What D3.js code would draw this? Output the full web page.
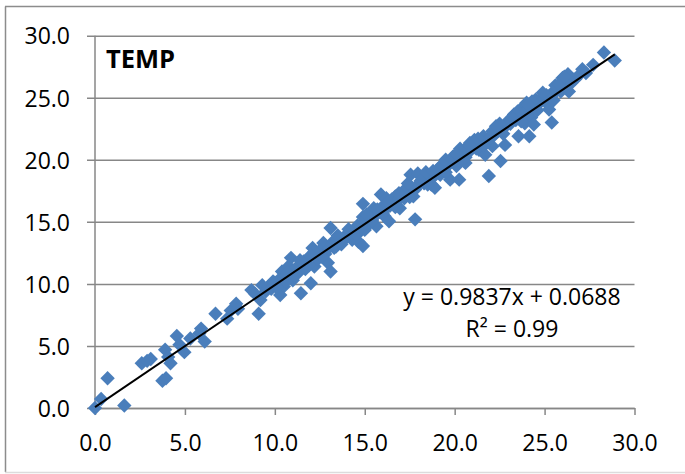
<!DOCTYPE html>
<html>
<head>
<meta charset="utf-8">
<script src="https://cdn.jsdelivr.net/npm/d3@7"></script>
<style>
  html, body { margin: 0; padding: 0; background: #fff; }
  svg { display: block; }
  text { font-family: "Open Sans", "Noto Sans", sans-serif; fill: #000; }
</style>
</head>
<body>
<svg id="chart" width="685" height="474"></svg>
<script>
// Observed vs. predicted temperature pairs (x, y)
const xValues = [
  0.0, 0.34, 0.7, 1.63, 2.6, 2.9, 3.1, 3.75, 3.95, 3.9, 4.2, 4.07, 4.55, 4.7, 4.97, 5.3, 5.8, 5.9, 6.1,
  6.7, 7.35, 7.55, 7.85, 7.95, 8.7, 9.1, 9.2, 9.3, 9.65, 9.9, 10.3, 10.4, 10.5, 10.65, 10.75, 10.9,
  11.0, 11.25, 11.45, 11.5, 11.75, 12.0, 12.1, 12.2, 12.6, 12.7, 12.95, 13.1, 13.1, 13.3, 13.55, 13.9,
  14.3, 14.55, 14.65, 14.9, 14.9, 15.0, 15.15, 15.4, 15.5, 15.65, 15.9, 16.0, 16.1, 16.35, 16.5, 16.7,
  16.95, 17.3, 17.55, 17.7, 17.8, 17.95, 18.2, 18.7, 18.8, 18.9, 19.15, 19.5, 19.75, 19.9, 20.1, 20.25,
  20.5, 20.6, 20.85, 21.1, 21.35, 21.6, 21.7, 21.9, 22.1, 22.3, 22.55, 22.7, 22.8, 23.05, 23.3, 23.55,
  23.65, 23.9, 24.0, 24.15, 24.25, 24.4, 24.5, 24.9, 25.1, 25.25, 25.4, 25.5, 25.85, 26.1, 26.35, 26.6,
  27.1, 27.7, 28.3, 28.9,
  8.9, 9.5, 9.8, 10.0, 10.2, 10.5, 10.6, 10.8, 11.0, 11.2, 11.3, 11.6, 11.8, 11.9, 12.3, 12.4, 12.5,
  12.8, 13.0, 13.2, 13.4, 13.6, 13.8, 14.0, 14.2, 14.4, 14.6, 14.8, 15.0, 15.2, 15.3, 15.6, 15.8, 16.0,
  16.2, 16.4, 16.6, 16.8, 17.0, 17.2, 17.4, 17.6, 17.8, 18.0, 18.3, 18.5, 18.6, 19.0, 19.2, 19.4, 19.6,
  19.8, 20.0, 20.2, 20.4, 20.7, 20.9, 21.0, 21.2, 21.5, 21.8, 22.0, 22.2, 22.4, 22.6, 22.9, 23.1, 23.4,
  23.6, 23.8, 24.0, 24.2, 24.4, 24.6, 24.8, 25.0, 25.2, 25.4, 25.7, 25.9, 26.0, 26.2, 26.4, 26.7, 26.9,
  27.3, 20.3, 21.3, 22.5, 23.5, 24.3, 25.6, 26.0, 26.3, 19.3, 18.4, 17.4, 16.2,
  10.1, 10.7, 11.1, 11.4, 11.7, 12.2, 12.6, 13.3, 13.7, 14.1, 14.5, 14.9, 15.4, 15.7, 16.3, 16.7,
  17.1, 17.5, 18.1, 18.5, 19.1, 19.5, 20.1, 20.6, 21.1, 21.6, 22.1, 22.7, 23.2, 23.7, 24.1, 24.6,
  25.1, 25.5, 25.8, 26.5, 12.0, 13.5, 15.1, 16.9, 18.8, 20.8, 22.3, 24.9, 26.1
];
const yValues = [
  0.0, 0.73, 2.4, 0.2, 3.6, 3.8, 3.95, 2.2, 2.4, 4.7, 3.6, 4.1, 5.8, 5.1, 4.5, 5.6, 6.0, 6.4, 5.35,
  7.6, 7.2, 7.85, 8.4, 8.0, 9.5, 7.6, 8.7, 9.9, 9.8, 10.2, 9.1, 11.0, 9.8, 10.6, 11.4, 12.1,
  10.3, 10.85, 9.25, 11.65, 11.4, 10.05, 12.9, 11.4, 12.5, 13.3, 11.7, 11.0, 14.5, 12.9, 13.3, 13.7,
  13.55, 13.95, 13.4, 13.05, 16.45, 14.35, 14.9, 15.7, 16.1, 14.65, 17.2, 16.25, 15.45, 15.05, 16.8, 17.05,
  16.1, 17.6, 18.8, 17.05, 15.2, 18.9, 18.4, 18.0, 18.6, 17.75, 18.9, 20.0, 18.4, 20.25, 19.5, 18.4,
  20.55, 19.75, 21.35, 21.6, 20.8, 21.9, 20.4, 18.7, 21.1, 22.2, 19.9, 22.7, 21.2, 23.25, 23.65, 21.9,
  24.05, 22.95, 24.6, 21.9, 23.4, 22.85, 24.85, 25.1, 24.6, 24.05, 23.0, 25.5, 25.9, 26.15, 25.5, 26.45,
  27.3, 27.65, 28.65, 28.0,
  9.2, 9.4, 9.6, 10.1, 10.3, 10.5, 10.2, 10.9, 11.1, 11.3, 10.9, 11.8, 12.0, 11.5, 12.4, 12.0, 12.7,
  12.4, 12.9, 13.2, 13.0, 13.6, 13.5, 14.0, 14.1, 14.3, 14.7, 14.6, 15.0, 15.3, 14.9, 15.5, 15.8, 15.7,
  16.2, 16.3, 16.5, 16.7, 17.0, 16.9, 17.3, 17.5, 17.6, 18.0, 18.1, 18.4, 18.7, 19.0, 18.8, 19.3, 19.5,
  19.9, 19.9, 20.3, 20.1, 20.5, 20.8, 21.2, 20.9, 21.4, 21.6, 21.8, 22.0, 22.3, 22.4, 22.8, 22.9, 23.2,
  23.4, 23.7, 24.0, 24.3, 24.2, 24.5, 24.7, 24.9, 25.1, 25.3, 25.6, 25.5, 25.9, 26.0, 26.3, 26.5, 26.8,
  27.0, 20.9, 21.7, 22.9, 23.9, 24.7, 26.0, 26.6, 26.9, 19.6, 19.0, 18.1, 16.9,
  9.7, 10.9, 10.7, 11.9, 11.2, 12.6, 12.2, 13.5, 13.2, 14.4, 14.0, 15.4, 15.1, 16.0, 16.6, 16.2,
  17.4, 17.0, 18.3, 18.0, 19.3, 19.0, 20.5, 20.2, 21.4, 21.1, 22.3, 22.1, 23.4, 23.1, 24.4, 24.0,
  25.2, 24.8, 26.1, 26.2, 12.3, 13.9, 15.6, 17.3, 19.1, 21.2, 22.7, 25.4, 26.7
];
const tickValues = [0, 5, 10, 15, 20, 25, 30];
const seriesTitle = "TEMP";
const trendSlope = 0.9837;
const trendIntercept = 0.0688;
const rSquared = 0.99;

const points = xValues.map((x, i) => ({ x, y: yValues[i] }));

const svg = d3.select("#chart");
const plot = { left: 95, right: 634.5, top: 35.7, bottom: 408 };

const x = d3.scaleLinear().domain([0, 30]).range([plot.left, plot.right]);
const y = d3.scaleLinear().domain([0, 30]).range([plot.bottom, plot.top]);

const gridColor = "#878787";

// chart frame
svg.append("line").attr("x1", 5.5).attr("x2", 5.5).attr("y1", 6.5).attr("y2", 472)
  .attr("stroke", "#8c8c8c").attr("stroke-width", 1.5);
svg.append("line").attr("x1", 5).attr("x2", 685).attr("y1", 6.5).attr("y2", 6.5)
  .attr("stroke", "#8c8c8c").attr("stroke-width", 1.5);
svg.append("line").attr("x1", 5).attr("x2", 685).attr("y1", 472.5).attr("y2", 472.5)
  .attr("stroke", "#dcdcdc").attr("stroke-width", 1.5);

// horizontal gridlines with outward tick stubs
const yAxis = d3.axisLeft(y).tickValues(tickValues).tickSize(plot.right - plot.left + 8)
  .tickFormat(d3.format(".1f"));
const gy = svg.append("g").attr("transform", `translate(${plot.right},0)`).call(yAxis);
gy.select(".domain").remove();
gy.selectAll(".tick line").attr("stroke", gridColor).attr("stroke-width", 1.5);
gy.selectAll(".tick text").attr("x", -(plot.right - 70)).attr("dy", "0.36em")
  .style("font-size", "23px").attr("fill", "#000");

// vertical axis line
svg.append("line").attr("x1", plot.left).attr("x2", plot.left)
  .attr("y1", plot.top).attr("y2", plot.bottom)
  .attr("stroke", gridColor).attr("stroke-width", 1.5);

// horizontal axis
const xAxis = d3.axisBottom(x).tickValues(tickValues).tickSize(7)
  .tickSizeOuter(0).tickFormat(d3.format(".1f"));
const gx = svg.append("g").attr("transform", `translate(0,${plot.bottom})`).call(xAxis);
gx.select(".domain").attr("stroke", gridColor).attr("stroke-width", 1.5);
gx.selectAll(".tick line").attr("stroke", gridColor).attr("stroke-width", 1.5);
gx.selectAll(".tick text").attr("y", 42.7).attr("dy", 0)
  .style("font-size", "23px").attr("fill", "#000");

// diamond markers
const diamond = "M0,-7.2L7.2,0L0,7.2L-7.2,0Z";
svg.append("g").selectAll("path").data(points).join("path")
  .attr("d", diamond)
  .attr("transform", d => `translate(${x(d.x)},${y(d.y)})`)
  .attr("fill", "#4a7ebb");

// linear trendline over the data range
const xExt = d3.extent(points, d => d.x);
const trend = xExt.map(v => ({ x: v, y: trendSlope * v + trendIntercept }));
svg.append("path").datum(trend)
  .attr("d", d3.line().x(d => x(d.x)).y(d => y(d.y)))
  .attr("fill", "none").attr("stroke", "#000").attr("stroke-width", 2);

// series title
svg.append("text").attr("x", 106).attr("y", 67.7)
  .style("font-size", "25.5px").style("font-weight", "700").text(seriesTitle);

// trendline equation
const eq = svg.append("g").attr("text-anchor", "middle").style("font-size", "23px");
eq.append("text").attr("x", 512).attr("y", 305)
  .text(`y = ${trendSlope}x + ${trendIntercept}`);
eq.append("text").attr("x", 512).attr("y", 336.7)
  .text(`R² = ${rSquared}`);
</script>
</body>
</html>
